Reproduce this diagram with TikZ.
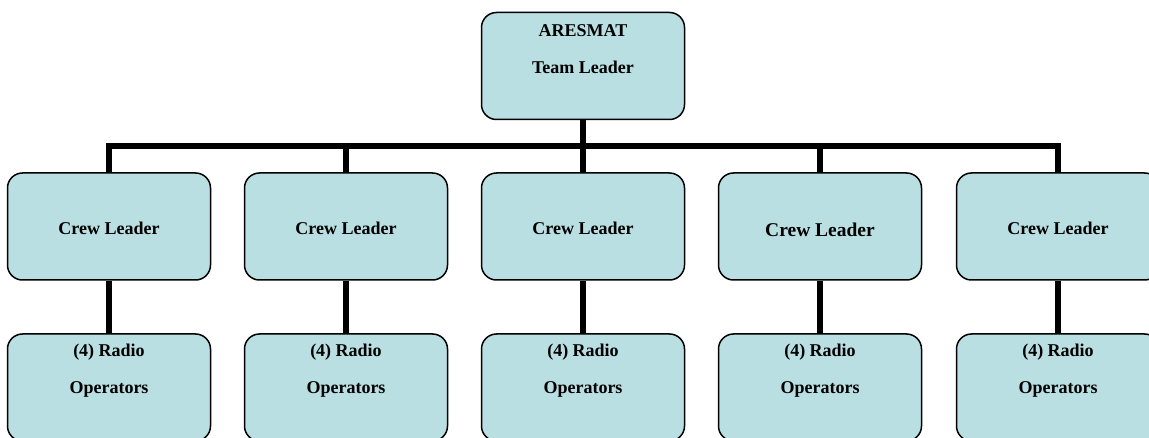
\documentclass[tikz,border=0pt]{standalone}
\usepackage{fontspec}
\setmainfont{Liberation Serif}
\definecolor{boxfill}{RGB}{185,223,227}
\begin{document}
\begin{tikzpicture}[x=1pt,y=-1pt,
  orgbox/.style={draw=black,line width=1.5pt,fill=boxfill,rounded corners=15pt,
    minimum width=203pt,minimum height=107pt,inner sep=0pt},
  label/.style={font=\fontsize{18}{37}\selectfont\bfseries,align=center,inner sep=0pt},
  biglabel/.style={label,font=\fontsize{19.5}{37}\selectfont\bfseries},
  link/.style={line width=6pt,black}]
\useasboundingbox (0,0) rectangle (1149,438);
\clip (0,0) rectangle (1149,438);
% team leader
\node[orgbox] (top) at (583,66) {};
\node[label] (toptext) at (583,49) {ARESMAT\\Team Leader};
% horizontal bus
\coordinate (busc) at (583,146);
\foreach \i/\x in {1/109,2/346,3/583,4/820,5/1058}{
  \coordinate (bus\i) at (\x,146);
  \node[orgbox] (crew\i) at (\x,226.5) {};
  \node[orgbox] (radio\i) at (\x,387.5) {};
  \node[label] (radiotext\i) at (\x,371) {(4) Radio\\Operators};
}
\foreach \i/\x in {1/109,2/346,3/583,5/1058}
  \node[label] (crewtext\i) at (\x,228) {Crew Leader};
\node[biglabel] (crewtext4) at (820,230) {Crew Leader};
\draw[link] (top.south) -- (busc);
\draw[link,line cap=rect] (bus1) -- (bus5);
\foreach \i in {1,...,5}{
  \draw[link] (bus\i) -- (crew\i.north);
  \draw[link] (crew\i.south) -- (radio\i.north);
}
\end{tikzpicture}
\end{document}
